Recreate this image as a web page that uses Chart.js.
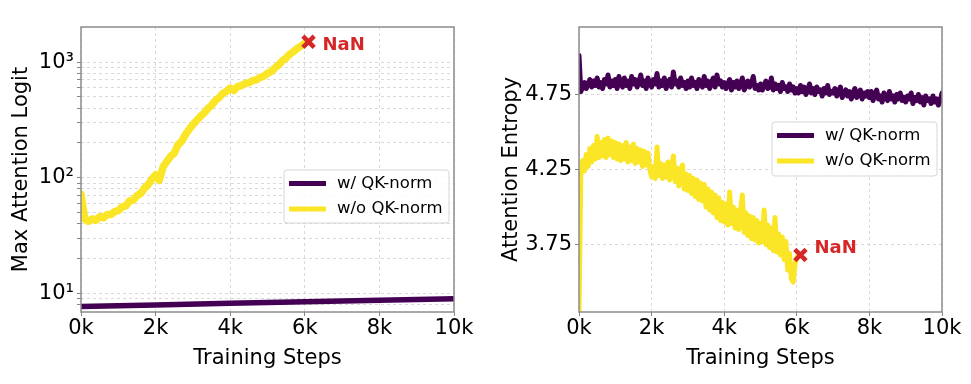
<!DOCTYPE html>
<html>
<head>
<meta charset="utf-8">
<script src="https://cdn.jsdelivr.net/npm/chart.js@4.4.1/dist/chart.umd.min.js"></script>
<style>
  html, body { margin: 0; padding: 0; background: #fff; }
  #wrap { position: relative; width: 971px; height: 384px; }
  canvas { position: absolute; top: 0; }
  #logitChart { left: 0; }
  #entropyChart { left: 490px; }
</style>
</head>
<body>
<div id="wrap">
  <canvas id="logitChart" width="490" height="384"></canvas>
  <canvas id="entropyChart" width="481" height="384"></canvas>
</div>
<script>
// values
const seriesNames = ['w/ QK-norm', 'w/o QK-norm'];
const xTicks = [0, 2000, 4000, 6000, 8000, 10000];

// left panel: max attention logit (log y)
const logitQkSteps = [0, 2000, 4000, 6000, 8000, 10000];
const logitQk = [7.7, 7.95, 8.2, 8.45, 8.7, 9.0];
const logitNoQkStep = 100;
const logitNoQk = [
  72, 44, 42, 44, 43, 46, 45, 48, 48, 51,
  52, 56, 57, 63, 64, 70, 73, 81, 87, 97,
  106, 95, 124, 138, 153, 163, 193, 207, 236, 262,
  288, 312, 338, 362, 396, 422, 464, 492, 534, 556,
  595, 568, 615, 625, 652, 661, 690, 702, 736, 756,
  800, 826, 890, 945, 1025, 1085, 1170, 1235, 1315, 1380,
  1450
];
const logitNaN = { step: 6100, value: 1500 };
const logitTicks = [8, 9, 10, 20, 30, 40, 50, 60, 70, 80, 90, 100, 200, 300, 400, 500, 600, 700, 800, 900, 1000];
const logitLabels = { 10: '10¹', 100: '10²', 1000: '10³' };

// right panel: attention entropy
const entropyStep = 50;
const entropyQk = [
  5.01, 4.77, 4.80, 4.83, 4.79, 4.82, 4.85, 4.80, 4.84, 4.81, 4.86, 4.80, 4.83, 4.79, 4.85, 4.82, 4.88, 4.80, 4.84, 4.81,
  4.85, 4.79, 4.87, 4.82, 4.80, 4.86, 4.81, 4.84, 4.79, 4.87, 4.82, 4.85, 4.80, 4.83, 4.88, 4.81, 4.84, 4.79, 4.86, 4.82,
  4.80, 4.85, 4.82, 4.89, 4.80, 4.84, 4.81, 4.86, 4.79, 4.83, 4.85, 4.80, 4.90, 4.82, 4.84, 4.80, 4.86, 4.81, 4.83, 4.79,
  4.84, 4.80, 4.86, 4.81, 4.83, 4.79, 4.85, 4.82, 4.80, 4.87, 4.81, 4.84, 4.79, 4.83, 4.86, 4.80, 4.88, 4.82, 4.84, 4.80,
  4.83, 4.79, 4.82, 4.85, 4.78, 4.83, 4.80, 4.84, 4.79, 4.82, 4.86, 4.78, 4.81, 4.84, 4.80, 4.82, 4.87, 4.79, 4.81, 4.78,
  4.82, 4.78, 4.81, 4.84, 4.79, 4.80, 4.86, 4.78, 4.82, 4.79, 4.81, 4.77, 4.83, 4.79, 4.80, 4.77, 4.82, 4.78, 4.80, 4.76,
  4.79, 4.76, 4.81, 4.77, 4.80, 4.75, 4.78, 4.82, 4.76, 4.79, 4.75, 4.80, 4.77, 4.78, 4.74, 4.79, 4.76, 4.81, 4.75, 4.77,
  4.76, 4.79, 4.74, 4.77, 4.80, 4.73, 4.76, 4.78, 4.74, 4.77, 4.72, 4.76, 4.79, 4.73, 4.75, 4.78, 4.72, 4.76, 4.74, 4.77,
  4.73, 4.77, 4.71, 4.75, 4.78, 4.72, 4.74, 4.70, 4.76, 4.73, 4.71, 4.77, 4.72, 4.74, 4.70, 4.75, 4.72, 4.76, 4.71, 4.73,
  4.70, 4.74, 4.72, 4.76, 4.69, 4.73, 4.71, 4.75, 4.70, 4.73, 4.68, 4.74, 4.71, 4.72, 4.69, 4.74, 4.70, 4.72, 4.68, 4.71, 4.76
];
const entropyNoQk = [
  3.30, 4.22, 4.31, 4.24, 4.35, 4.27, 4.39, 4.30, 4.41, 4.32, 4.47, 4.33, 4.43, 4.34, 4.45, 4.33, 4.46, 4.35, 4.44, 4.33,
  4.43, 4.32, 4.42, 4.31, 4.41, 4.32, 4.43, 4.30, 4.40, 4.31, 4.42, 4.29, 4.39, 4.30, 4.38, 4.27, 4.37, 4.28, 4.36, 4.25,
  4.20, 4.27, 4.19, 4.40, 4.21, 4.29, 4.19, 4.28, 4.20, 4.30, 4.18, 4.27, 4.34, 4.17, 4.26, 4.14, 4.24, 4.28, 4.12, 4.22,
  4.11, 4.21, 4.09, 4.19, 4.07, 4.18, 4.05, 4.16, 4.04, 4.15, 4.00, 4.12, 3.98, 4.10, 3.96, 4.08, 3.93, 4.06, 3.91, 4.03,
  3.90, 4.02, 3.88, 4.10, 3.89, 4.00, 3.86, 3.98, 3.85, 3.97, 4.08, 3.83, 3.96, 3.81, 3.94, 3.79, 3.93, 3.78, 3.91, 3.76,
  3.89, 3.77, 3.98, 3.75, 3.88, 3.73, 3.86, 3.71, 3.93, 3.70, 3.82, 3.68, 3.80, 3.65, 3.77, 3.58, 3.69, 3.52, 3.50, 3.62,
  3.66, 3.69
];
const entropyNaN = { step: 6100, value: 3.68 };
const entropyTicks = [3.75, 4.25, 4.75];

const PURPLE = '#440154';
const YELLOW = '#fae526';
const RED = '#d62728';
const FS = 21;

Chart.defaults.font.family = '"DejaVu Sans", sans-serif';
Chart.defaults.color = '#000';

function pairs(steps, values) {
  return values.map((v, i) => ({ x: steps[i], y: v }));
}
function evenly(step, values) {
  return values.map((v, i) => ({ x: i * step, y: v }));
}

const framePlugin = {
  id: 'frame',
  afterDatasetsDraw(chart) {
    const { ctx, chartArea: a } = chart;
    ctx.save();
    ctx.strokeStyle = '#8c8c8c';
    ctx.lineWidth = 1.5;
    ctx.strokeRect(a.left, a.top, a.right - a.left, a.bottom - a.top);
    ctx.restore();
  }
};

const nanPlugin = {
  id: 'nanLabel',
  afterDatasetsDraw(chart, args, opts) {
    const ds = chart.data.datasets[2];
    const p = ds.data[0];
    const px = chart.scales.x.getPixelForValue(p.x);
    const py = chart.scales.y.getPixelForValue(p.y);
    const ctx = chart.ctx;
    ctx.save();
    ctx.font = 'bold 18px "DejaVu Sans"';
    ctx.fillStyle = RED;
    ctx.textBaseline = 'middle';
    ctx.fillText('NaN', px + opts.dx, py + opts.dy);
    ctx.restore();
  }
};

const boxLegend = {
  id: 'boxLegend',
  afterDraw(chart, args, opts) {
    const ctx = chart.ctx;
    const { x, y, w, h } = opts;
    ctx.save();
    ctx.beginPath();
    ctx.roundRect(x, y, w, h, 3);
    ctx.fillStyle = 'rgba(255,255,255,0.85)';
    ctx.fill();
    ctx.strokeStyle = '#d6d6d6';
    ctx.lineWidth = 1;
    ctx.stroke();
    chart.data.datasets.slice(0, 2).forEach((ds, i) => {
      const ly = y + 13.5 + i * 25.5;
      ctx.beginPath();
      ctx.strokeStyle = ds.borderColor;
      ctx.lineWidth = 5;
      ctx.moveTo(x + 5, ly);
      ctx.lineTo(x + 42, ly);
      ctx.stroke();
      ctx.fillStyle = '#000';
      ctx.font = '16.5px "DejaVu Sans"';
      ctx.textBaseline = 'middle';
      ctx.fillText(ds.label, x + 53, ly);
    });
    ctx.restore();
  }
};

function xAxis() {
  return {
    type: 'linear',
    min: 0,
    max: 10000,
    afterBuildTicks: s => { s.ticks = xTicks.map(v => ({ value: v })); },
    afterFit: s => { s.height = 72; },
    ticks: { callback: v => v / 1000 + 'k', font: { size: FS }, color: '#000', padding: 0, maxRotation: 0, autoSkip: false },
    grid: { color: '#d0d0d0', lineWidth: 0.8, tickLength: 4, tickColor: '#666', tickBorderDash: [1, 0] },
    border: { display: false, dash: [3, 3] },
    title: { display: true, text: 'Training Steps', font: { size: FS }, color: '#000', padding: { top: 0, bottom: 13 } }
  };
}

function yTitle(text) {
  return { display: true, text, font: { size: FS }, color: '#000', padding: { top: 9, bottom: 0 } };
}

function lineSet(label, data, color, width) {
  return {
    label, data, borderColor: color, backgroundColor: color, borderWidth: width,
    pointRadius: 0, tension: 0, fill: false, borderJoinStyle: 'round', borderCapStyle: 'round'
  };
}

function nanSet(point) {
  return {
    type: 'scatter', label: 'NaN', data: [{ x: point.step, y: point.value }], order: -1,
    pointStyle: 'crossRot', pointRadius: 8, borderWidth: 4.5, borderColor: RED, backgroundColor: RED
  };
}

const common = {
  responsive: false,
  animation: false,
  devicePixelRatio: 1,
  events: []
};

new Chart(document.getElementById('logitChart'), {
  type: 'line',
  data: {
    datasets: [
      lineSet(seriesNames[0], pairs(logitQkSteps, logitQk), PURPLE, 5.5),
      lineSet(seriesNames[1], evenly(logitNoQkStep, logitNoQk), YELLOW, 7.5),
      nanSet(logitNaN)
    ]
  },
  options: {
    ...common,
    layout: { padding: { top: 27, right: 36, left: 0, bottom: 0 } },
    plugins: {
      legend: { display: false },
      tooltip: { enabled: false },
      boxLegend: { x: 284, y: 170, w: 165, h: 53 },
      nanLabel: { dx: 14, dy: 4 }
    },
    scales: {
      x: xAxis(),
      y: {
        type: 'logarithmic',
        min: 6.9,
        max: 2010,
        afterBuildTicks: s => { s.ticks = logitTicks.map(v => ({ value: v })); },
        afterFit: s => { s.width = 81; },
        ticks: { callback: v => logitLabels[v] || '', font: { size: FS }, color: '#000', padding: 3, autoSkip: false },
        grid: { color: '#d0d0d0', lineWidth: 0.8, tickLength: 4, tickColor: '#666', tickBorderDash: [1, 0] },
        border: { display: false, dash: [3, 3] },
        title: yTitle('Max Attention Logit')
      }
    }
  },
  plugins: [framePlugin, nanPlugin, boxLegend]
});

new Chart(document.getElementById('entropyChart'), {
  type: 'line',
  data: {
    datasets: [
      lineSet(seriesNames[0], evenly(entropyStep, entropyQk), PURPLE, 5),
      lineSet(seriesNames[1], evenly(entropyStep, entropyNoQk), YELLOW, 5),
      nanSet(entropyNaN)
    ]
  },
  options: {
    ...common,
    layout: { padding: { top: 27, right: 29, left: 0, bottom: 0 } },
    plugins: {
      legend: { display: false },
      tooltip: { enabled: false },
      boxLegend: { x: 282, y: 122, w: 165, h: 54 },
      nanLabel: { dx: 14, dy: -7 }
    },
    scales: {
      x: xAxis(),
      y: {
        type: 'linear',
        min: 3.30,
        max: 5.20,
        afterBuildTicks: s => { s.ticks = entropyTicks.map(v => ({ value: v })); },
        afterFit: s => { s.width = 89; },
        ticks: { callback: v => v.toFixed(2), font: { size: FS }, color: '#000', padding: 3, autoSkip: false },
        grid: { color: '#d0d0d0', lineWidth: 0.8, tickLength: 4, tickColor: '#666', tickBorderDash: [1, 0] },
        border: { display: false, dash: [3, 3] },
        title: yTitle('Attention Entropy')
      }
    }
  },
  plugins: [framePlugin, nanPlugin, boxLegend]
});
</script>
</body>
</html>
